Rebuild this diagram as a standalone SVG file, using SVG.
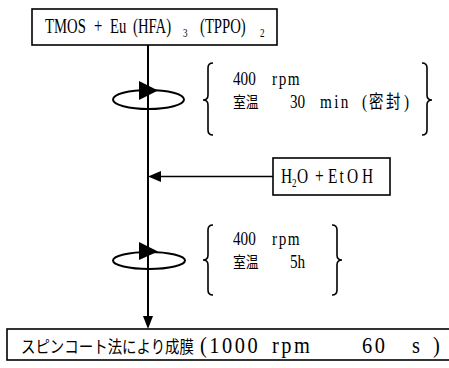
<svg xmlns="http://www.w3.org/2000/svg" width="449" height="368" viewBox="0 0 449 368">
<style>
.box{fill:#fff;stroke:#000;stroke-width:1.6}
.ln{fill:none;stroke:#000;stroke-width:2}
.br{fill:none;stroke:#000;stroke-width:1.6}
.ell{fill:none;stroke:#000;stroke-width:2}
.ah{fill:#000;stroke:none}
text{font-family:"Liberation Serif","Noto Sans CJK JP",serif;font-size:19px;fill:#000}
.cjk{font-family:"Noto Sans CJK JP","Liberation Serif",sans-serif}
</style>
<rect width="449" height="368" fill="#fff"/>
<g id="connectors">
  <line class="ln" x1="148" y1="45" x2="148" y2="318"/>
  <polygon class="ah" points="143,316 153,316 148,329"/>
  <line class="ln" x1="273" y1="176.5" x2="160" y2="176.5" style="stroke-width:1.6"/>
  <polygon class="ah" points="148,176.5 161,171 161,182"/>
</g>
<g id="node-start">
  <rect class="box" x="32" y="9" width="245" height="36"/>
  <text transform="scale(0.7 1)" style="font-size:21px"><tspan x="64.3" y="33">TMOS</tspan><tspan x="134.3" y="33">+</tspan><tspan x="157.1" y="33">Eu</tspan><tspan x="190" y="33">(HFA)</tspan><tspan style="font-size:13px" x="261.4" y="37">3</tspan><tspan x="285.7" y="33">(TPPO)</tspan><tspan style="font-size:13px" x="371.4" y="37">2</tspan></text>
</g>
<g id="stir-1">
  <ellipse class="ell" cx="148.5" cy="99.5" rx="35.5" ry="9.5"/>
  <polygon class="ah" points="139,81 139,100 158,90.5"/>
  <path class="br" d="M213,63 Q208,63 208,68 L208,95 Q208,100 203,100 Q208,100 208,105 L208,130 Q208,135 213,135"/>
  <path class="br" d="M422,63 Q427,63 427,68 L427,95 Q427,100 432,100 Q427,100 427,105 L427,130 Q427,135 422,135"/>
  <text transform="scale(0.8 1)"><tspan x="291.25" y="85.5">400</tspan><tspan x="340" y="85.5" letter-spacing="2">rpm</tspan><tspan class="cjk" style="font-size:16px" x="291.25" y="108.5">室温</tspan><tspan x="362.5" y="108.5">30</tspan><tspan x="400" y="108.5" letter-spacing="3">min</tspan><tspan x="452.5" y="108.5">(</tspan><tspan class="cjk" style="font-size:18px" x="461.25 482.5" y="108.5">密封</tspan><tspan x="505" y="108.5">)</tspan></text>
</g>
<g id="node-h2o">
  <rect class="box" x="273" y="158" width="117" height="37"/>
  <text transform="scale(0.7 1)" style="font-size:22px"><tspan x="401.4" y="183.5">H</tspan><tspan style="font-size:13px" x="417.1" y="187.5">2</tspan><tspan x="424.3" y="183.5">O</tspan><tspan x="450" y="183.5">+</tspan><tspan x="468.6 485 495.7 517.1" y="183.5">EtOH</tspan></text>
</g>
<g id="stir-2">
  <ellipse class="ell" cx="149" cy="260.5" rx="36" ry="8.5"/>
  <polygon class="ah" points="139,242 139,260 158,251.5"/>
  <path class="br" d="M213,225 Q208,225 208,230 L208,255 Q208,260 203,260 Q208,260 208,265 L208,290 Q208,295 213,295"/>
  <path class="br" d="M332,225 Q337,225 337,230 L337,255 Q337,260 342,260 Q337,260 337,265 L337,290 Q337,295 332,295"/>
  <text transform="scale(0.8 1)"><tspan x="291.25" y="245.5">400</tspan><tspan x="340" y="245.5" letter-spacing="2">rpm</tspan><tspan class="cjk" style="font-size:16px" x="291.25" y="268.5">室温</tspan><tspan x="362.5" y="268.5">5h</tspan></text>
</g>
<g id="node-end">
  <rect class="box" x="7" y="329" width="460" height="31"/>
  <text transform="scale(0.85 1)" style="font-size:24px"><tspan class="cjk" style="font-size:17px" x="24.7" y="353">スピンコート法により成膜</tspan><tspan x="235.3" y="353" letter-spacing="3">(1000</tspan><tspan x="320" y="353" letter-spacing="3">rpm</tspan><tspan x="425.9" y="353" letter-spacing="3">60</tspan><tspan x="484.7" y="353">s</tspan><tspan x="509.4" y="353">)</tspan></text>
</g>
</svg>
